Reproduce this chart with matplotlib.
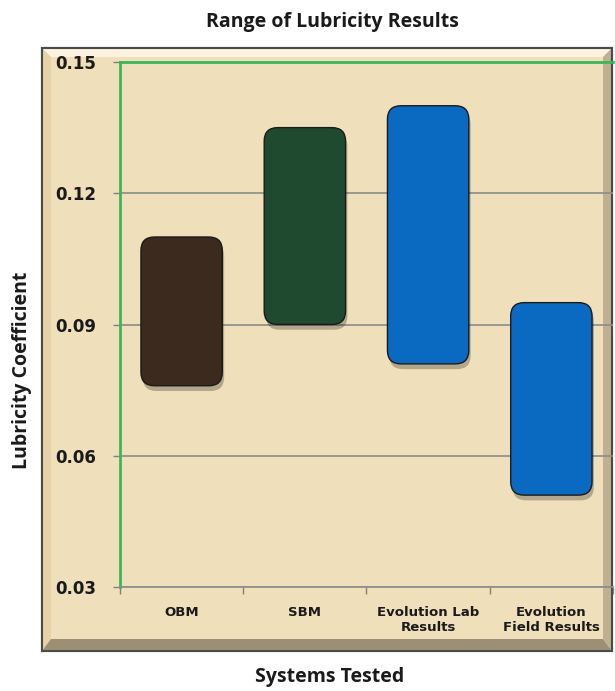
import matplotlib
matplotlib.use("Agg")
import matplotlib.pyplot as plt
from matplotlib.patches import FancyBboxPatch, Rectangle, Polygon

categories = ["OBM", "SBM", "Evolution Lab\nResults", "Evolution\nField Results"]
low_values = [0.076, 0.090, 0.081, 0.051]
high_values = [0.110, 0.135, 0.140, 0.095]
bar_colors = ["#3b2a1d", "#1f4a2f", "#0a6ac2", "#0a6ac2"]
y_ticks = [0.03, 0.06, 0.09, 0.12, 0.15]
y_tick_labels = ["0.03", "0.06", "0.09", "0.12", "0.15"]

W, H = 615, 691
fig = plt.figure(figsize=(W / 100, H / 100), dpi=100)
fig.patch.set_facecolor("white")

def fx(px):
    return px / W

def fy(py):
    return 1 - py / H

# parchment frame
L, T, R, B = 42, 48, 612, 651
frame = Rectangle((fx(L), fy(B)), fx(R) - fx(L), fy(T) - fy(B),
                  transform=fig.transFigure, facecolor="#efdfba",
                  edgecolor="#555555", lw=1.5, zorder=0)
fig.patches.append(frame)
bev = 9
bevb = 12
fig.patches.append(Polygon([(fx(L), fy(T)), (fx(R), fy(T)), (fx(R - bev), fy(T + bev)), (fx(L + bev), fy(T + bev))],
                           closed=True, transform=fig.transFigure, facecolor="#fbf3df", edgecolor="none", zorder=0.5))
fig.patches.append(Polygon([(fx(L), fy(T)), (fx(L + bev), fy(T + bev)), (fx(L + bev), fy(B - bevb)), (fx(L), fy(B))],
                           closed=True, transform=fig.transFigure, facecolor="#e6d2a8", edgecolor="none", zorder=0.5))
fig.patches.append(Polygon([(fx(L), fy(B)), (fx(R), fy(B)), (fx(R - bev), fy(B - bevb)), (fx(L + bev), fy(B - bevb))],
                           closed=True, transform=fig.transFigure, facecolor="#9d8f76", edgecolor="none", zorder=0.5))
fig.patches.append(Polygon([(fx(R), fy(T)), (fx(R), fy(B)), (fx(R - bev), fy(B - bevb)), (fx(R - bev), fy(T + bev))],
                           closed=True, transform=fig.transFigure, facecolor="#bfb092", edgecolor="none", zorder=0.5))
fig.patches.append(Rectangle((fx(L), fy(B)), fx(R) - fx(L), fy(T) - fy(B),
                             transform=fig.transFigure, facecolor="none",
                             edgecolor="#4a4a4a", lw=1.5, zorder=0.6))

ax_l, ax_r, ax_t, ax_b = 120, 613, 62, 587
ax = fig.add_axes([fx(ax_l), fy(ax_b), fx(ax_r) - fx(ax_l), fy(ax_t) - fy(ax_b)])
ax.set_zorder(2)
ax.set_facecolor("none")
ax.set_xlim(-0.5, len(categories) - 0.5)
ax.set_ylim(0.03, 0.15)

ax.set_yticks(y_ticks)
ax.set_yticklabels(y_tick_labels, fontsize=12, fontweight="bold", color="#1a1a1a")
ax.set_xticks(range(len(categories)))
ax.set_xticklabels(categories, fontsize=9.5, fontweight="bold", color="#1a1a1a", linespacing=1.15)
ax.tick_params(axis="x", length=0, pad=14)
ax.set_xticks([i - 0.5 for i in range(len(categories) + 1)], minor=True)
ax.tick_params(axis="x", which="minor", length=5, color="#808080", width=1)
ax.tick_params(axis="y", length=5, color="#808080", width=1, pad=12)

ax.grid(axis="y", color="#8c8c8c", lw=1.2, zorder=1)
ax.set_axisbelow(True)
for s in ["left", "top"]:
    ax.spines[s].set_color("#3cb55a")
    ax.spines[s].set_linewidth(2)
ax.spines["right"].set_visible(False)
ax.spines["bottom"].set_color("#8c8c8c")
ax.spines["bottom"].set_linewidth(1.2)

width = 0.66
px_per_x = (ax_r - ax_l) / len(categories)
px_per_y = (ax_b - ax_t) / 0.12
aspect = px_per_x / px_per_y
for i, (lo, hi, c) in enumerate(zip(low_values, high_values, bar_colors)):
    sh = FancyBboxPatch((i - width / 2 + 0.015, lo - 0.0012), width, hi - lo,
                        boxstyle="round,pad=0,rounding_size=0.11", mutation_aspect=aspect,
                        facecolor="#000000", alpha=0.25, edgecolor="none", zorder=2)
    ax.add_patch(sh)
    p = FancyBboxPatch((i - width / 2, lo), width, hi - lo,
                       boxstyle="round,pad=0,rounding_size=0.11", mutation_aspect=aspect,
                       facecolor=c, edgecolor="#1a1a1a", lw=1.0, zorder=3)
    ax.add_patch(p)

fig.text(fx(332), fy(22), "Range of Lubricity Results", ha="center", va="center",
         fontsize=14, fontweight="bold", family="Open Sans", color="#1a1a1a")
fig.text(fx(330), fy(677), "Systems Tested", ha="center", va="center",
         fontsize=14, fontweight="bold", family="Open Sans", color="#1a1a1a")
fig.text(fx(22), fy(370), "Lubricity Coefficient", ha="center", va="center", rotation=90,
         fontsize=14, fontweight="bold", family="Open Sans", color="#1a1a1a")

fig.savefig("out.png", dpi=100)
